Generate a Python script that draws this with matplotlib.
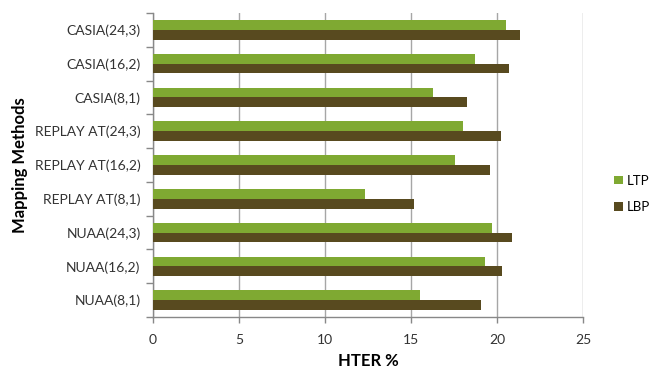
import matplotlib.pyplot as plt
import numpy as np

# Data
methods = ['NUAA(8,1)', 'NUAA(16,2)', 'NUAA(24,3)',
           'REPLAY AT(8,1)', 'REPLAY AT(16,2)', 'REPLAY AT(24,3)',
           'CASIA(8,1)', 'CASIA(16,2)', 'CASIA(24,3)']
ltp = [15.5, 19.3, 19.7, 12.3, 17.55, 18.05, 16.25, 18.7, 20.55]
lbp = [19.05, 20.3, 20.9, 15.2, 19.6, 20.25, 18.25, 20.7, 21.35]
xticks = [0, 5, 10, 15, 20, 25]

plt.rcParams['font.family'] = ['Lato', 'DejaVu Sans']

fig = plt.figure(figsize=(6.52, 3.68), dpi=100)
ax = fig.add_axes([0.2347, 0.1386, 0.6595, 0.8261])

y = np.arange(len(methods))
h = 0.29
ax.barh(y + h / 2, ltp, height=h, color='#7fa932', label='LTP', zorder=3)
ax.barh(y - h / 2, lbp, height=h, color='#584a1f', label='LBP', zorder=3)

ax.set_xlim(0, 25)
ax.set_ylim(-0.5, len(methods) - 0.5)
ax.set_xticks(xticks)
ax.set_xticklabels([str(t) for t in xticks], fontsize=10, color='#333333')
ax.grid(axis='x', color='#a6a6a6', linewidth=1, zorder=0)

# category labels centred, ticks at the boundaries
ax.set_yticks(y)
ax.set_yticklabels(methods, fontsize=10, color='#333333')
ax.set_yticks(np.arange(len(methods) + 1) - 0.5, minor=True)
ax.tick_params(axis='y', which='major', length=0, pad=9)
ax.tick_params(axis='y', which='minor', length=5, color='#888888', width=1)
ax.tick_params(axis='x', length=4, color='#888888', width=1, pad=8)

for s in ['top', 'right']:
    ax.spines[s].set_visible(False)
for s in ['left', 'bottom']:
    ax.spines[s].set_color('#888888')
    ax.spines[s].set_linewidth(1)

ax.set_xlabel('HTER %', fontsize=12, fontweight='bold', labelpad=5)
ax.set_ylabel('Mapping Methods', fontsize=12, fontweight='bold', labelpad=5)

ax.legend(loc='center left', bbox_to_anchor=(0.942, 0.473), bbox_transform=fig.transFigure,
          frameon=False, fontsize=9.5, handlelength=0.65, handleheight=0.65,
          handletextpad=0.3, labelspacing=1.1, borderpad=0, borderaxespad=0)

fig.savefig('out.png', dpi=100)
